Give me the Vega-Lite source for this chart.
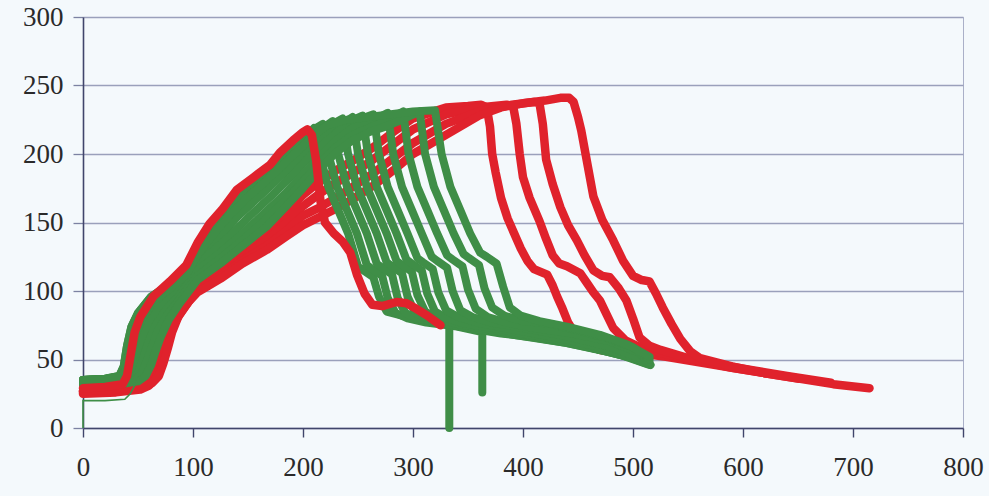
{
"$schema": "https://vega.github.io/schema/vega-lite/v6.json",
"width": 880, "height": 411,
"autosize": {"type": "none"},
"padding": {"left": 83, "top": 17, "right": 26, "bottom": 68},
"background": "#f4f9fc",
"config": {
 "view": {"stroke": "#aab0c8", "strokeWidth": 1},
 "axisX": {"grid": false, "domainColor": "#40456b", "domainWidth": 1.6, "tickColor": "#40456b", "tickSize": 9, "tickWidth": 1.4, "labelFont": "Liberation Serif", "labelFontSize": 27, "labelColor": "#2a2a2a", "labelPadding": 17, "labelFlush": false, "labelOverlap": false, "title": null},
 "axisY": {"grid": true, "gridColor": "#9aa0bb", "gridWidth": 1.3, "domainColor": "#40456b", "domainWidth": 1.6, "tickColor": "#7c82a2", "tickSize": 10, "tickWidth": 1.3, "labelFont": "Liberation Serif", "labelFontSize": 27, "labelColor": "#2a2a2a", "labelPadding": 10, "labelFlush": false, "labelOverlap": false, "title": null}
},
"data": {"values": [
{"s":"R1","x":0,"y":29},{"s":"R1","x":20,"y":30},{"s":"R1","x":36,"y":32},{"s":"R1","x":40,"y":38},{"s":"R1","x":43,"y":52},{"s":"R1","x":47,"y":70},{"s":"R1","x":52,"y":81},{"s":"R1","x":64,"y":96},{"s":"R1","x":79,"y":107},{"s":"R1","x":94,"y":119},{"s":"R1","x":104,"y":135},{"s":"R1","x":115,"y":149},{"s":"R1","x":127,"y":160},{"s":"R1","x":140,"y":174},{"s":"R1","x":155,"y":183},{"s":"R1","x":170,"y":192},{"s":"R1","x":179,"y":201},{"s":"R1","x":191,"y":210},{"s":"R1","x":200,"y":216},{"s":"R1","x":204,"y":218},{"s":"R1","x":208,"y":214},{"s":"R1","x":212,"y":195},{"s":"R1","x":216,"y":165},{"s":"R1","x":220,"y":150},{"s":"R1","x":228,"y":142},{"s":"R1","x":236,"y":136},{"s":"R1","x":243,"y":128},{"s":"R1","x":249,"y":112},{"s":"R1","x":256,"y":98},{"s":"R1","x":263,"y":90},{"s":"R1","x":272,"y":89},{"s":"R1","x":285,"y":92},{"s":"R1","x":294,"y":91},{"s":"R1","x":303,"y":87},{"s":"R1","x":313,"y":82},{"s":"R1","x":325,"y":75},
{"s":"R2","x":0,"y":27},{"s":"R2","x":25,"y":28},{"s":"R2","x":45,"y":30},{"s":"R2","x":55,"y":33},{"s":"R2","x":61,"y":38},{"s":"R2","x":65,"y":48},{"s":"R2","x":69,"y":60},{"s":"R2","x":74,"y":72},{"s":"R2","x":80,"y":83},{"s":"R2","x":90,"y":94},{"s":"R2","x":104,"y":104},{"s":"R2","x":125,"y":115},{"s":"R2","x":145,"y":128},{"s":"R2","x":167,"y":142},{"s":"R2","x":185,"y":158},{"s":"R2","x":200,"y":170},{"s":"R2","x":215,"y":180},{"s":"R2","x":230,"y":188},{"s":"R2","x":247,"y":196},{"s":"R2","x":264,"y":205},{"s":"R2","x":282,"y":216},{"s":"R2","x":300,"y":226},{"s":"R2","x":315,"y":230},{"s":"R2","x":330,"y":234},{"s":"R2","x":350,"y":235},{"s":"R2","x":362,"y":236},{"s":"R2","x":367,"y":234},{"s":"R2","x":370,"y":220},{"s":"R2","x":372,"y":200},{"s":"R2","x":375,"y":187},{"s":"R2","x":380,"y":168},{"s":"R2","x":386,"y":153},{"s":"R2","x":392,"y":142},{"s":"R2","x":398,"y":131},{"s":"R2","x":404,"y":122},{"s":"R2","x":410,"y":116},{"s":"R2","x":416,"y":114},{"s":"R2","x":422,"y":112},{"s":"R2","x":427,"y":104},{"s":"R2","x":431,"y":96},{"s":"R2","x":436,"y":87},{"s":"R2","x":441,"y":77},{"s":"R2","x":448,"y":68},{"s":"R2","x":458,"y":62},{"s":"R2","x":470,"y":57},{"s":"R2","x":500,"y":55},{"s":"R2","x":530,"y":52},{"s":"R2","x":560,"y":48},{"s":"R2","x":590,"y":44},{"s":"R2","x":620,"y":40},
{"s":"R3","x":0,"y":26},{"s":"R3","x":30,"y":27},{"s":"R3","x":50,"y":29},{"s":"R3","x":58,"y":32},{"s":"R3","x":64,"y":38},{"s":"R3","x":68,"y":47},{"s":"R3","x":72,"y":58},{"s":"R3","x":76,"y":68},{"s":"R3","x":82,"y":80},{"s":"R3","x":92,"y":92},{"s":"R3","x":104,"y":103},{"s":"R3","x":125,"y":113},{"s":"R3","x":145,"y":125},{"s":"R3","x":167,"y":137},{"s":"R3","x":185,"y":150},{"s":"R3","x":200,"y":162},{"s":"R3","x":215,"y":171},{"s":"R3","x":230,"y":179},{"s":"R3","x":247,"y":187},{"s":"R3","x":264,"y":196},{"s":"R3","x":282,"y":207},{"s":"R3","x":300,"y":218},{"s":"R3","x":330,"y":229},{"s":"R3","x":360,"y":234},{"s":"R3","x":385,"y":236},{"s":"R3","x":391,"y":235},{"s":"R3","x":394,"y":222},{"s":"R3","x":397,"y":200},{"s":"R3","x":400,"y":183},{"s":"R3","x":406,"y":168},{"s":"R3","x":415,"y":151},{"s":"R3","x":421,"y":138},{"s":"R3","x":427,"y":126},{"s":"R3","x":433,"y":120},{"s":"R3","x":440,"y":118},{"s":"R3","x":452,"y":113},{"s":"R3","x":458,"y":106},{"s":"R3","x":464,"y":99},{"s":"R3","x":470,"y":93},{"s":"R3","x":476,"y":83},{"s":"R3","x":482,"y":73},{"s":"R3","x":493,"y":64},{"s":"R3","x":506,"y":59},{"s":"R3","x":530,"y":54},{"s":"R3","x":560,"y":49},{"s":"R3","x":590,"y":44},{"s":"R3","x":620,"y":40},{"s":"R3","x":650,"y":36},
{"s":"R4","x":0,"y":25},{"s":"R4","x":30,"y":26},{"s":"R4","x":52,"y":28},{"s":"R4","x":60,"y":31},{"s":"R4","x":66,"y":36},{"s":"R4","x":70,"y":44},{"s":"R4","x":74,"y":55},{"s":"R4","x":78,"y":66},{"s":"R4","x":84,"y":78},{"s":"R4","x":94,"y":90},{"s":"R4","x":104,"y":101},{"s":"R4","x":125,"y":111},{"s":"R4","x":145,"y":122},{"s":"R4","x":167,"y":133},{"s":"R4","x":185,"y":144},{"s":"R4","x":200,"y":155},{"s":"R4","x":215,"y":161},{"s":"R4","x":230,"y":168},{"s":"R4","x":247,"y":177},{"s":"R4","x":264,"y":186},{"s":"R4","x":282,"y":197},{"s":"R4","x":300,"y":208},{"s":"R4","x":330,"y":222},{"s":"R4","x":360,"y":231},{"s":"R4","x":390,"y":236},{"s":"R4","x":410,"y":238},{"s":"R4","x":415,"y":237},{"s":"R4","x":418,"y":222},{"s":"R4","x":421,"y":196},{"s":"R4","x":427,"y":178},{"s":"R4","x":434,"y":161},{"s":"R4","x":441,"y":148},{"s":"R4","x":449,"y":137},{"s":"R4","x":456,"y":126},{"s":"R4","x":464,"y":115},{"s":"R4","x":472,"y":111},{"s":"R4","x":479,"y":110},{"s":"R4","x":487,"y":102},{"s":"R4","x":494,"y":93},{"s":"R4","x":500,"y":80},{"s":"R4","x":506,"y":66},{"s":"R4","x":515,"y":60},{"s":"R4","x":525,"y":57},{"s":"R4","x":550,"y":51},{"s":"R4","x":580,"y":46},{"s":"R4","x":610,"y":42},{"s":"R4","x":640,"y":38},{"s":"R4","x":680,"y":33},
{"s":"R5","x":0,"y":27},{"s":"R5","x":30,"y":28},{"s":"R5","x":55,"y":30},{"s":"R5","x":63,"y":33},{"s":"R5","x":69,"y":38},{"s":"R5","x":73,"y":47},{"s":"R5","x":77,"y":58},{"s":"R5","x":81,"y":70},{"s":"R5","x":87,"y":82},{"s":"R5","x":96,"y":92},{"s":"R5","x":104,"y":99},{"s":"R5","x":125,"y":109},{"s":"R5","x":145,"y":120},{"s":"R5","x":167,"y":130},{"s":"R5","x":185,"y":140},{"s":"R5","x":200,"y":148},{"s":"R5","x":215,"y":154},{"s":"R5","x":230,"y":160},{"s":"R5","x":247,"y":168},{"s":"R5","x":264,"y":177},{"s":"R5","x":282,"y":188},{"s":"R5","x":300,"y":200},{"s":"R5","x":330,"y":214},{"s":"R5","x":360,"y":228},{"s":"R5","x":380,"y":234},{"s":"R5","x":400,"y":237},{"s":"R5","x":420,"y":239},{"s":"R5","x":434,"y":241},{"s":"R5","x":442,"y":241},{"s":"R5","x":446,"y":238},{"s":"R5","x":450,"y":227},{"s":"R5","x":453,"y":217},{"s":"R5","x":458,"y":195},{"s":"R5","x":464,"y":169},{"s":"R5","x":472,"y":152},{"s":"R5","x":482,"y":137},{"s":"R5","x":491,"y":122},{"s":"R5","x":500,"y":111},{"s":"R5","x":508,"y":108},{"s":"R5","x":515,"y":107},{"s":"R5","x":521,"y":98},{"s":"R5","x":527,"y":88},{"s":"R5","x":535,"y":76},{"s":"R5","x":543,"y":65},{"s":"R5","x":552,"y":56},{"s":"R5","x":561,"y":51},{"s":"R5","x":590,"y":45},{"s":"R5","x":620,"y":40},{"s":"R5","x":652,"y":36},{"s":"R5","x":682,"y":32},{"s":"R5","x":715,"y":29},
{"s":"G1","x":0,"y":35},{"s":"G1","x":20,"y":36},{"s":"G1","x":33,"y":38},{"s":"G1","x":37,"y":45},{"s":"G1","x":40,"y":60},{"s":"G1","x":44,"y":74},{"s":"G1","x":50,"y":84},{"s":"G1","x":62,"y":96},{"s":"G1","x":77,"y":104},{"s":"G1","x":92,"y":114},{"s":"G1","x":102,"y":128},{"s":"G1","x":113,"y":142},{"s":"G1","x":125,"y":153},{"s":"G1","x":138,"y":166},{"s":"G1","x":152,"y":176},{"s":"G1","x":167,"y":185},{"s":"G1","x":180,"y":195},{"s":"G1","x":195,"y":207},{"s":"G1","x":204,"y":214},{"s":"G1","x":210,"y":219},{"s":"G1","x":215,"y":200},{"s":"G1","x":223,"y":176},{"s":"G1","x":232,"y":159},{"s":"G1","x":241,"y":142},{"s":"G1","x":250,"y":118},{"s":"G1","x":255,"y":115},{"s":"G1","x":264,"y":110},{"s":"G1","x":269,"y":96},{"s":"G1","x":276,"y":85},{"s":"G1","x":290,"y":82},{"s":"G1","x":310,"y":80},{"s":"G1","x":333,"y":76},{"s":"G1","x":333,"y":0},
{"s":"G2","x":0,"y":35},{"s":"G2","x":20,"y":36},{"s":"G2","x":33,"y":38},{"s":"G2","x":37,"y":45},{"s":"G2","x":40,"y":60},{"s":"G2","x":44,"y":74},{"s":"G2","x":50,"y":84},{"s":"G2","x":62,"y":96},{"s":"G2","x":77,"y":104},{"s":"G2","x":92,"y":114},{"s":"G2","x":102,"y":128},{"s":"G2","x":113,"y":142},{"s":"G2","x":125,"y":153},{"s":"G2","x":138,"y":166},{"s":"G2","x":152,"y":176},{"s":"G2","x":167,"y":185},{"s":"G2","x":180,"y":195},{"s":"G2","x":195,"y":207},{"s":"G2","x":204,"y":214},{"s":"G2","x":212,"y":219},{"s":"G2","x":218,"y":222},{"s":"G2","x":223,"y":200},{"s":"G2","x":231,"y":176},{"s":"G2","x":240,"y":159},{"s":"G2","x":249,"y":142},{"s":"G2","x":258,"y":119},{"s":"G2","x":263,"y":116},{"s":"G2","x":272,"y":111},{"s":"G2","x":277,"y":95},{"s":"G2","x":284,"y":84},{"s":"G2","x":295,"y":80},{"s":"G2","x":312,"y":77},{"s":"G2","x":340,"y":74},{"s":"G2","x":363,"y":70},{"s":"G2","x":363,"y":26},
{"s":"G3","x":0,"y":35},{"s":"G3","x":22,"y":36},{"s":"G3","x":36,"y":38},{"s":"G3","x":40,"y":45},{"s":"G3","x":43,"y":59},{"s":"G3","x":47,"y":72},{"s":"G3","x":53,"y":82},{"s":"G3","x":64,"y":93},{"s":"G3","x":78,"y":101},{"s":"G3","x":94,"y":112},{"s":"G3","x":103,"y":125},{"s":"G3","x":116,"y":139},{"s":"G3","x":132,"y":154},{"s":"G3","x":149,"y":168},{"s":"G3","x":166,"y":180},{"s":"G3","x":183,"y":193},{"s":"G3","x":200,"y":206},{"s":"G3","x":212,"y":215},{"s":"G3","x":220,"y":220},{"s":"G3","x":227,"y":224},{"s":"G3","x":232,"y":200},{"s":"G3","x":240,"y":176},{"s":"G3","x":249,"y":159},{"s":"G3","x":258,"y":142},{"s":"G3","x":267,"y":120},{"s":"G3","x":272,"y":117},{"s":"G3","x":281,"y":112},{"s":"G3","x":286,"y":95},{"s":"G3","x":293,"y":84},{"s":"G3","x":304,"y":80},{"s":"G3","x":321,"y":77},{"s":"G3","x":350,"y":73},{"s":"G3","x":380,"y":69},{"s":"G3","x":410,"y":66},{"s":"G3","x":440,"y":62},{"s":"G3","x":470,"y":57},
{"s":"G4","x":0,"y":35},{"s":"G4","x":22,"y":36},{"s":"G4","x":36,"y":38},{"s":"G4","x":40,"y":45},{"s":"G4","x":43,"y":59},{"s":"G4","x":47,"y":72},{"s":"G4","x":53,"y":82},{"s":"G4","x":64,"y":93},{"s":"G4","x":78,"y":101},{"s":"G4","x":94,"y":112},{"s":"G4","x":103,"y":125},{"s":"G4","x":116,"y":139},{"s":"G4","x":132,"y":154},{"s":"G4","x":149,"y":168},{"s":"G4","x":166,"y":180},{"s":"G4","x":183,"y":193},{"s":"G4","x":200,"y":206},{"s":"G4","x":212,"y":215},{"s":"G4","x":225,"y":221},{"s":"G4","x":236,"y":226},{"s":"G4","x":241,"y":200},{"s":"G4","x":249,"y":176},{"s":"G4","x":258,"y":159},{"s":"G4","x":267,"y":142},{"s":"G4","x":276,"y":121},{"s":"G4","x":281,"y":118},{"s":"G4","x":290,"y":113},{"s":"G4","x":295,"y":96},{"s":"G4","x":302,"y":84},{"s":"G4","x":313,"y":80},{"s":"G4","x":330,"y":76},{"s":"G4","x":360,"y":72},{"s":"G4","x":400,"y":67},{"s":"G4","x":440,"y":62},{"s":"G4","x":480,"y":55},{"s":"G4","x":500,"y":51},
{"s":"G5","x":0,"y":34},{"s":"G5","x":25,"y":35},{"s":"G5","x":38,"y":37},{"s":"G5","x":42,"y":44},{"s":"G5","x":46,"y":58},{"s":"G5","x":50,"y":70},{"s":"G5","x":56,"y":80},{"s":"G5","x":66,"y":91},{"s":"G5","x":80,"y":99},{"s":"G5","x":95,"y":110},{"s":"G5","x":104,"y":122},{"s":"G5","x":120,"y":136},{"s":"G5","x":140,"y":154},{"s":"G5","x":160,"y":169},{"s":"G5","x":180,"y":184},{"s":"G5","x":200,"y":199},{"s":"G5","x":215,"y":210},{"s":"G5","x":230,"y":219},{"s":"G5","x":245,"y":227},{"s":"G5","x":250,"y":200},{"s":"G5","x":258,"y":176},{"s":"G5","x":267,"y":159},{"s":"G5","x":276,"y":142},{"s":"G5","x":285,"y":122},{"s":"G5","x":290,"y":119},{"s":"G5","x":299,"y":114},{"s":"G5","x":304,"y":97},{"s":"G5","x":311,"y":85},{"s":"G5","x":322,"y":80},{"s":"G5","x":339,"y":76},{"s":"G5","x":370,"y":72},{"s":"G5","x":410,"y":67},{"s":"G5","x":450,"y":61},{"s":"G5","x":490,"y":53},{"s":"G5","x":515,"y":46},
{"s":"G6","x":0,"y":34},{"s":"G6","x":25,"y":35},{"s":"G6","x":38,"y":37},{"s":"G6","x":42,"y":44},{"s":"G6","x":46,"y":58},{"s":"G6","x":50,"y":70},{"s":"G6","x":56,"y":80},{"s":"G6","x":66,"y":91},{"s":"G6","x":80,"y":99},{"s":"G6","x":95,"y":110},{"s":"G6","x":104,"y":122},{"s":"G6","x":120,"y":136},{"s":"G6","x":140,"y":154},{"s":"G6","x":160,"y":169},{"s":"G6","x":180,"y":184},{"s":"G6","x":200,"y":199},{"s":"G6","x":215,"y":210},{"s":"G6","x":235,"y":221},{"s":"G6","x":254,"y":228},{"s":"G6","x":259,"y":200},{"s":"G6","x":267,"y":176},{"s":"G6","x":276,"y":159},{"s":"G6","x":285,"y":142},{"s":"G6","x":294,"y":123},{"s":"G6","x":299,"y":120},{"s":"G6","x":308,"y":115},{"s":"G6","x":313,"y":98},{"s":"G6","x":320,"y":85},{"s":"G6","x":331,"y":80},{"s":"G6","x":348,"y":76},{"s":"G6","x":380,"y":72},{"s":"G6","x":420,"y":66},{"s":"G6","x":460,"y":59},{"s":"G6","x":495,"y":52},{"s":"G6","x":512,"y":47},
{"s":"G7","x":0,"y":34},{"s":"G7","x":28,"y":35},{"s":"G7","x":41,"y":37},{"s":"G7","x":46,"y":42},{"s":"G7","x":50,"y":55},{"s":"G7","x":55,"y":67},{"s":"G7","x":61,"y":78},{"s":"G7","x":70,"y":88},{"s":"G7","x":84,"y":98},{"s":"G7","x":100,"y":112},{"s":"G7","x":112,"y":125},{"s":"G7","x":132,"y":139},{"s":"G7","x":152,"y":155},{"s":"G7","x":172,"y":170},{"s":"G7","x":190,"y":184},{"s":"G7","x":207,"y":199},{"s":"G7","x":222,"y":210},{"s":"G7","x":236,"y":219},{"s":"G7","x":250,"y":225},{"s":"G7","x":264,"y":229},{"s":"G7","x":269,"y":200},{"s":"G7","x":277,"y":176},{"s":"G7","x":286,"y":159},{"s":"G7","x":295,"y":142},{"s":"G7","x":304,"y":124},{"s":"G7","x":309,"y":121},{"s":"G7","x":318,"y":116},{"s":"G7","x":323,"y":99},{"s":"G7","x":330,"y":86},{"s":"G7","x":341,"y":81},{"s":"G7","x":358,"y":77},{"s":"G7","x":390,"y":72},{"s":"G7","x":430,"y":66},{"s":"G7","x":470,"y":59},{"s":"G7","x":505,"y":50},
{"s":"G8","x":0,"y":33},{"s":"G8","x":30,"y":34},{"s":"G8","x":44,"y":36},{"s":"G8","x":50,"y":40},{"s":"G8","x":55,"y":52},{"s":"G8","x":60,"y":64},{"s":"G8","x":66,"y":75},{"s":"G8","x":75,"y":86},{"s":"G8","x":88,"y":97},{"s":"G8","x":104,"y":115},{"s":"G8","x":125,"y":128},{"s":"G8","x":145,"y":142},{"s":"G8","x":165,"y":157},{"s":"G8","x":185,"y":172},{"s":"G8","x":200,"y":185},{"s":"G8","x":215,"y":198},{"s":"G8","x":230,"y":210},{"s":"G8","x":245,"y":219},{"s":"G8","x":260,"y":223},{"s":"G8","x":277,"y":230},{"s":"G8","x":282,"y":200},{"s":"G8","x":290,"y":176},{"s":"G8","x":299,"y":159},{"s":"G8","x":308,"y":142},{"s":"G8","x":317,"y":125},{"s":"G8","x":322,"y":122},{"s":"G8","x":331,"y":117},{"s":"G8","x":336,"y":100},{"s":"G8","x":343,"y":86},{"s":"G8","x":354,"y":81},{"s":"G8","x":371,"y":77},{"s":"G8","x":400,"y":73},{"s":"G8","x":440,"y":67},{"s":"G8","x":480,"y":59},{"s":"G8","x":510,"y":50},{"s":"G8","x":516,"y":46},
{"s":"G9","x":0,"y":32},{"s":"G9","x":32,"y":33},{"s":"G9","x":47,"y":35},{"s":"G9","x":53,"y":39},{"s":"G9","x":58,"y":49},{"s":"G9","x":63,"y":60},{"s":"G9","x":68,"y":71},{"s":"G9","x":76,"y":82},{"s":"G9","x":88,"y":94},{"s":"G9","x":104,"y":111},{"s":"G9","x":125,"y":124},{"s":"G9","x":145,"y":137},{"s":"G9","x":166,"y":152},{"s":"G9","x":185,"y":167},{"s":"G9","x":200,"y":180},{"s":"G9","x":215,"y":193},{"s":"G9","x":230,"y":205},{"s":"G9","x":245,"y":214},{"s":"G9","x":260,"y":219},{"s":"G9","x":275,"y":224},{"s":"G9","x":291,"y":231},{"s":"G9","x":296,"y":200},{"s":"G9","x":304,"y":176},{"s":"G9","x":313,"y":159},{"s":"G9","x":322,"y":142},{"s":"G9","x":331,"y":126},{"s":"G9","x":336,"y":123},{"s":"G9","x":345,"y":118},{"s":"G9","x":350,"y":101},{"s":"G9","x":357,"y":87},{"s":"G9","x":368,"y":81},{"s":"G9","x":385,"y":77},{"s":"G9","x":410,"y":73},{"s":"G9","x":445,"y":69},{"s":"G9","x":480,"y":63},{"s":"G9","x":505,"y":55},{"s":"G9","x":515,"y":48},
{"s":"G10","x":0,"y":31},{"s":"G10","x":35,"y":32},{"s":"G10","x":50,"y":34},{"s":"G10","x":57,"y":38},{"s":"G10","x":62,"y":46},{"s":"G10","x":66,"y":56},{"s":"G10","x":71,"y":67},{"s":"G10","x":78,"y":79},{"s":"G10","x":88,"y":91},{"s":"G10","x":104,"y":108},{"s":"G10","x":125,"y":120},{"s":"G10","x":145,"y":133},{"s":"G10","x":167,"y":147},{"s":"G10","x":185,"y":162},{"s":"G10","x":200,"y":175},{"s":"G10","x":215,"y":189},{"s":"G10","x":230,"y":201},{"s":"G10","x":245,"y":210},{"s":"G10","x":260,"y":216},{"s":"G10","x":275,"y":220},{"s":"G10","x":290,"y":225},{"s":"G10","x":306,"y":231},{"s":"G10","x":311,"y":200},{"s":"G10","x":319,"y":176},{"s":"G10","x":328,"y":159},{"s":"G10","x":337,"y":142},{"s":"G10","x":346,"y":127},{"s":"G10","x":351,"y":124},{"s":"G10","x":360,"y":119},{"s":"G10","x":365,"y":102},{"s":"G10","x":372,"y":88},{"s":"G10","x":383,"y":82},{"s":"G10","x":400,"y":78},{"s":"G10","x":425,"y":76},{"s":"G10","x":450,"y":71},{"s":"G10","x":475,"y":66},{"s":"G10","x":500,"y":59},{"s":"G10","x":515,"y":50},
{"s":"G11","x":0,"y":35},{"s":"G11","x":22,"y":36},{"s":"G11","x":36,"y":38},{"s":"G11","x":40,"y":45},{"s":"G11","x":43,"y":59},{"s":"G11","x":47,"y":72},{"s":"G11","x":53,"y":82},{"s":"G11","x":64,"y":93},{"s":"G11","x":78,"y":101},{"s":"G11","x":94,"y":112},{"s":"G11","x":103,"y":125},{"s":"G11","x":116,"y":139},{"s":"G11","x":132,"y":154},{"s":"G11","x":149,"y":168},{"s":"G11","x":166,"y":180},{"s":"G11","x":183,"y":193},{"s":"G11","x":200,"y":206},{"s":"G11","x":212,"y":215},{"s":"G11","x":222,"y":221},{"s":"G11","x":240,"y":225},{"s":"G11","x":260,"y":227},{"s":"G11","x":280,"y":229},{"s":"G11","x":300,"y":231},{"s":"G11","x":320,"y":232},{"s":"G11","x":326,"y":200},{"s":"G11","x":334,"y":176},{"s":"G11","x":343,"y":159},{"s":"G11","x":352,"y":142},{"s":"G11","x":361,"y":128},{"s":"G11","x":367,"y":125},{"s":"G11","x":376,"y":120},{"s":"G11","x":382,"y":103},{"s":"G11","x":388,"y":88},{"s":"G11","x":398,"y":82},{"s":"G11","x":415,"y":78},{"s":"G11","x":440,"y":74},{"s":"G11","x":470,"y":68},{"s":"G11","x":495,"y":61},{"s":"G11","x":515,"y":52},
{"s":"GT","x":0,"y":0},{"s":"GT","x":0,"y":20},{"s":"GT","x":20,"y":20},{"s":"GT","x":38,"y":21},{"s":"GT","x":43,"y":25},{"s":"GT","x":47,"y":31},{"s":"GT","x":52,"y":38}
]},
"encoding": {
 "x": {"field": "x", "type": "quantitative", "scale": {"domain": [0, 800], "nice": false, "zero": false}, "axis": {"values": [0,100,200,300,400,500,600,700,800]}},
 "y": {"field": "y", "type": "quantitative", "scale": {"domain": [0, 300], "nice": false}, "axis": {"values": [0,50,100,150,200,250,300]}},
 "detail": {"field": "s", "type": "nominal"},
 "order": {"value": null}
},
"layer": [
 {"transform": [{"filter": {"field": "s", "oneOf": ["R2","R3","R4","R5"]}}], "mark": {"type": "line", "color": "#e0222c", "strokeWidth": 8.5, "strokeJoin": "round", "strokeCap": "round"}, "encoding": {}},
 {"transform": [{"filter": {"field": "s", "oneOf": ["G1","G2","G3","G4","G5","G6","G7","G8","G9","G10","G11"]}}], "mark": {"type": "line", "color": "#3f8e47", "strokeWidth": 8, "strokeJoin": "round", "strokeCap": "round"}, "encoding": {}},
 {"transform": [{"filter": {"field": "s", "equal": "GT"}}], "mark": {"type": "line", "color": "#3f8e47", "strokeWidth": 1.6}, "encoding": {}},
 {"transform": [{"filter": {"field": "s", "equal": "R1"}}], "mark": {"type": "line", "color": "#e0222c", "strokeWidth": 8.5, "strokeJoin": "round", "strokeCap": "round"}, "encoding": {}}
]
}
